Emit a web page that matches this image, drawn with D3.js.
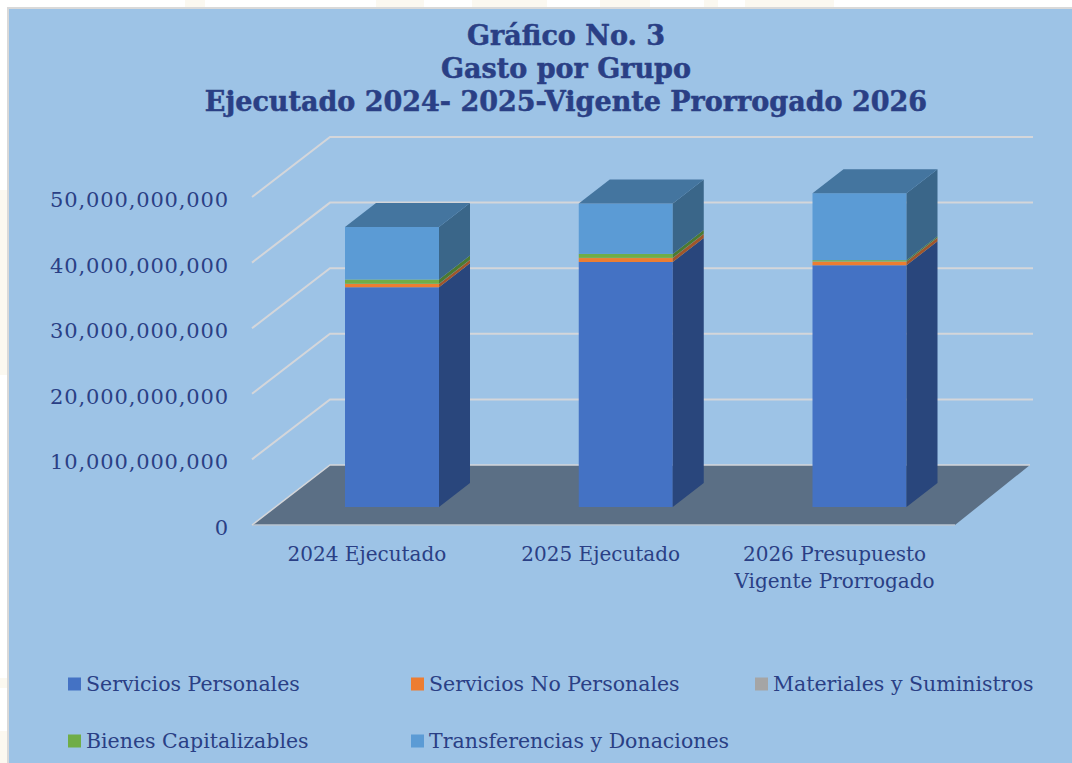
<!DOCTYPE html>
<html>
<head>
<meta charset="utf-8">
<script src="https://cdn.jsdelivr.net/npm/d3@7"></script>
<style>
  body { margin: 0; background: #fff; }
  svg { display: block; }
  text { font-family: "DejaVu Serif", serif; fill: #2a3f85; }
</style>
</head>
<body>
<svg id="chart" width="1072" height="763"></svg>
<script>
const titleLines = ["Gráfico No. 3", "Gasto por Grupo", "Ejecutado 2024- 2025-Vigente Prorrogado 2026"];
const categories = ["2024 Ejecutado", "2025 Ejecutado", "2026 Presupuesto|Vigente Prorrogado"];
const seriesNames = ["Servicios Personales", "Servicios No Personales", "Materiales y Suministros", "Bienes Capitalizables", "Transferencias y Donaciones"];
const personales = [33.5e9, 37.35e9, 36.85e9];
const noPersonales = [0.5e9, 0.6e9, 0.55e9];
const materiales = [0.03e9, 0.03e9, 0.03e9];
const bienes = [0.65e9, 0.6e9, 0.2e9];
const transferencias = [8.0e9, 7.7e9, 10.2e9];
const yTicks = [0, 10e9, 20e9, 30e9, 40e9, 50e9];

const frontColors = ["#4472c4", "#ed7d31", "#a5a5a5", "#70ad47", "#5b9bd5"];
const sideColors = ["#29467c", "#a0562a", "#6f6f6f", "#4b7a32", "#3a6689"];
const topColor = "#44759f";

// bits of the page's watermark that show around the panel [x, y, w, h]
const watermark = [[0, 190, 8, 185], [0, 678, 8, 10], [0, 731, 8, 32], [185, 0, 20, 7], [376, 0, 48, 7], [472, 0, 75, 7], [600, 0, 50, 7], [704, 0, 14, 7], [745, 0, 89, 7]];

const svg = d3.select("#chart");

svg.append("g").selectAll("rect")
  .data(watermark)
  .enter().append("rect")
  .attr("x", d => d[0]).attr("y", d => d[1])
  .attr("width", d => d[2]).attr("height", d => d[3])
  .attr("fill", "#fbf8f0");

// panel, runs off the right and bottom of the picture
svg.append("rect")
  .attr("x", 8).attr("y", 8)
  .attr("width", 1080).attr("height", 780)
  .attr("fill", "#9dc3e6")
  .attr("stroke", "#d9d9d9").attr("stroke-width", 2);

// title
svg.append("g").selectAll("text")
  .data(titleLines)
  .enter().append("text")
  .attr("x", 566)
  .attr("y", (d, i) => 45 + i * 33)
  .attr("text-anchor", "middle")
  .style("font-size", "27px")
  .style("font-weight", "bold")
  .style("stroke", "#2a3f85")
  .style("stroke-width", 0.5)
  .text(d => d);

// scales
const yScale = d3.scaleLinear().domain([0, 50e9]).range([525, 197]);
const xScale = d3.scalePoint().domain(categories).range([392, 859.5]);
const barWidth = 94;

// the 3d box: wall depth and bar depth
const wall = {dx: 78, dy: -60, left: 252, right: 1033};
const depth = {dx: 31, dy: -24};
const barShift = -18;

const line = d3.line();

// floor
svg.append("path")
  .attr("d", line([
    [wall.left, yScale(0)],
    [wall.left + wall.dx, yScale(0) + wall.dy],
    [1030, yScale(0) + wall.dy],
    [955, yScale(0)]
  ]) + "Z")
  .attr("fill", "#5b6f85");
svg.append("path")
  .attr("d", line([[wall.left, yScale(0)], [955, yScale(0)]]))
  .attr("stroke", "#b9c4d2")
  .attr("stroke-width", 1.5);

// gridlines, the zero one runs along the floor edge
svg.append("g").selectAll("path")
  .data(yTicks)
  .enter().append("path")
  .attr("d", d => line([
    [wall.left, yScale(d)],
    [wall.left + wall.dx, yScale(d) + wall.dy],
    [d === 0 ? 1030 : wall.right, yScale(d) + wall.dy]
  ]))
  .attr("fill", "none")
  .attr("stroke", "#d4d6da")
  .attr("stroke-width", d => d === 0 ? 1.5 : 2);

// y axis
const yAxis = svg.append("g")
  .attr("transform", "translate(229, 0)")
  .call(d3.axisLeft(yScale).tickValues(yTicks).tickFormat(d3.format(",")).tickSize(0).tickPadding(0));
yAxis.select(".domain").remove();
yAxis.selectAll("text")
  .attr("dy", "0.45em")
  .style("font-family", '"DejaVu Serif", serif')
  .style("font-size", "21px")
  .style("letter-spacing", "0.85px")
  .style("fill", "#2a3f85");

// stacked bars
const table = categories.map((c, i) => ({
  category: c,
  [seriesNames[0]]: personales[i],
  [seriesNames[1]]: noPersonales[i],
  [seriesNames[2]]: materiales[i],
  [seriesNames[3]]: bienes[i],
  [seriesNames[4]]: transferencias[i]
}));
const stacked = d3.stack().keys(seriesNames)(table);

const bars = svg.append("g");
stacked.forEach((layer, s) => {
  layer.forEach(seg => {
    const x0 = xScale(seg.data.category) - barWidth / 2;
    const x1 = x0 + barWidth;
    const yLow = yScale(seg[0]) + barShift;
    const yHigh = yScale(seg[1]) + barShift;
    bars.append("rect")
      .attr("x", x0).attr("y", yHigh)
      .attr("width", barWidth).attr("height", yLow - yHigh)
      .attr("fill", frontColors[s]);
    bars.append("path")
      .attr("d", line([
        [x1, yLow], [x1 + depth.dx, yLow + depth.dy],
        [x1 + depth.dx, yHigh + depth.dy], [x1, yHigh]
      ]) + "Z")
      .attr("fill", sideColors[s]);
  });
});

// top face of each stack
stacked[stacked.length - 1].forEach(seg => {
  const x0 = xScale(seg.data.category) - barWidth / 2;
  const x1 = x0 + barWidth;
  const yTop = yScale(seg[1]) + barShift;
  bars.append("path")
    .attr("d", line([
      [x0, yTop], [x1, yTop],
      [x1 + depth.dx, yTop + depth.dy], [x0 + depth.dx, yTop + depth.dy]
    ]) + "Z")
    .attr("fill", topColor);
});

// category labels
const labels = svg.append("g").selectAll("text")
  .data(categories)
  .enter().append("text")
  .attr("text-anchor", "middle")
  .style("font-size", "20px");
labels.selectAll("tspan")
  .data(d => d.split("|").map(t => ({t, cat: d})))
  .enter().append("tspan")
  .attr("x", d => xScale(d.cat) - 25)
  .attr("y", (d, i) => 561 + i * 26.5)
  .text(d => d.t);

// legend
const legendX = [68, 411, 755, 68, 411];
const legendY = [684, 684, 684, 741, 741];
const legend = svg.append("g").selectAll("g")
  .data(seriesNames)
  .enter().append("g")
  .attr("transform", (d, i) => `translate(${legendX[i]}, ${legendY[i]})`);
legend.append("rect")
  .attr("y", -6.5)
  .attr("width", 13).attr("height", 13)
  .attr("fill", (d, i) => frontColors[i]);
legend.append("text")
  .attr("x", 18).attr("y", 7)
  .style("font-size", "20.5px")
  .text(d => d);
</script>
</body>
</html>
